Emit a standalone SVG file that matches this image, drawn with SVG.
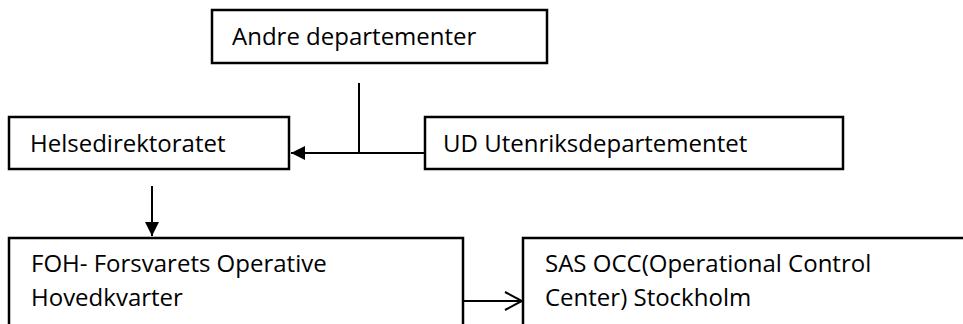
<svg xmlns="http://www.w3.org/2000/svg" width="963" height="324" viewBox="0 0 963 324">
<style>
.box{fill:#fff;stroke:#000;stroke-width:2.5}
.t{font-family:"Open Sans","DejaVu Sans",sans-serif;font-size:24px;fill:#000}
.ln{fill:none;stroke:#000;stroke-width:2}
</style>
<defs>
<marker id="tri" viewBox="0 0 10 10" refX="10" refY="5" markerWidth="7" markerHeight="7" markerUnits="strokeWidth" orient="auto">
<path d="M0,0 L10,5 L0,10 z" fill="#000"/>
</marker>
<marker id="open" viewBox="0 0 20 20" refX="18" refY="10" markerWidth="10" markerHeight="10" markerUnits="strokeWidth" orient="auto">
<path d="M1,1 L18,10 L1,19" fill="none" stroke="#000" stroke-width="2"/>
</marker>
</defs>
<rect width="963" height="324" fill="#fff"/>
<g id="andre">
<rect class="box" x="212" y="10" width="335" height="53"/>
<text class="t" x="232" y="45">Andre departementer</text>
</g>
<g id="helse">
<rect class="box" x="9" y="117" width="280" height="52"/>
<text class="t" x="30" y="152">Helsedirektoratet</text>
</g>
<g id="ud">
<rect class="box" x="425" y="117" width="418" height="52"/>
<text class="t" x="443" y="152">UD Utenriksdepartementet</text>
</g>
<g id="foh">
<rect class="box" x="9" y="238" width="454" height="100"/>
<text class="t" x="31" y="272">FOH- Forsvarets Operative</text>
<text class="t" x="31" y="306">Hovedkvarter</text>
</g>
<g id="sas">
<rect class="box" x="523" y="238" width="460" height="100"/>
<text class="t" x="545" y="272">SAS OCC(Operational Control</text>
<text class="t" x="545" y="306">Center) Stockholm</text>
</g>
<g id="connectors">
<line class="ln" x1="359" y1="83" x2="359" y2="153"/>
<line class="ln" x1="425" y1="153" x2="291" y2="153" marker-end="url(#tri)"/>
<line class="ln" x1="152" y1="186" x2="152" y2="236" marker-end="url(#tri)"/>
<line class="ln" x1="463" y1="301" x2="522" y2="301" marker-end="url(#open)"/>
</g>
</svg>
